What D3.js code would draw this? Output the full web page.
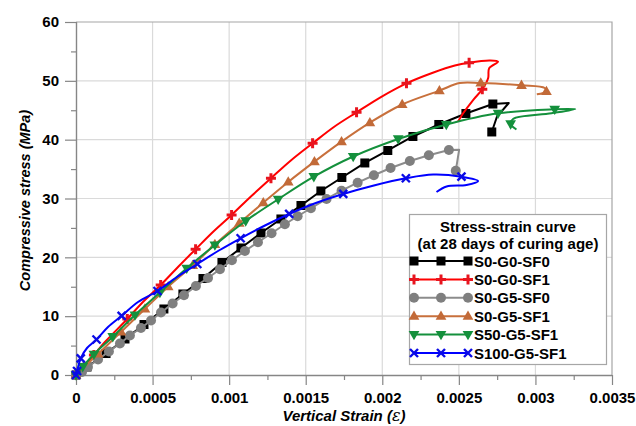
<!DOCTYPE html>
<html><head><meta charset="utf-8">
<script src="https://cdn.jsdelivr.net/npm/d3@7"></script>
<style>
html,body{margin:0;padding:0;background:#fff;}
svg text{font-family:"Liberation Sans",Arial,sans-serif;}
</style></head><body>
<svg id="chart" width="636" height="426"></svg>
<script>
// ---------------- DATA ----------------
const xTickValues = [0, 0.0005, 0.001, 0.0015, 0.002, 0.0025, 0.003, 0.0035];
const xTickLabels = ["0", "0.0005", "0.001", "0.0015", "0.002", "0.0025", "0.003", "0.0035"];
const xMinorTicks = [0.00025, 0.00075, 0.00125, 0.00175, 0.00225, 0.00275, 0.00325];
const yTickValues = [0, 10, 20, 30, 40, 50, 60];
const yMinorTicks = [5, 15, 25, 35, 45, 55];
const legendTitle = ["Stress-strain curve", "(at 28 days of curing age)"];
const seriesNames = ["S0-G0-SF0", "S0-G0-SF1", "S0-G5-SF0", "S0-G5-SF1", "S50-G5-SF1", "S100-G5-SF1"];

// [strain, stress (MPa)]
const s0g0sf0Line = [[0,0],[0.000026,0.51],[0.000072,1.36],[0.000196,3.65],[0.000320,6.12],[0.000444,8.58],[0.000574,11.22],[0.000698,13.77],[0.000829,16.40],[0.000953,19.12],[0.001077,21.59],[0.001208,24.14],[0.001338,26.52],[0.001469,28.81],[0.001599,31.28],[0.001736,33.57],[0.001886,36.04],[0.002036,38.16],[0.002200,40.54],[0.002369,42.58],[0.002546,44.45],[0.002722,46.06],[0.002826,46.23],[0.002748,43.86],[0.002715,41.31]];
const s0g0sf0Marks = [[0,0],[0.000072,1.36],[0.000196,3.65],[0.000320,6.12],[0.000444,8.58],[0.000574,11.22],[0.000698,13.77],[0.000829,16.40],[0.000953,19.12],[0.001077,21.59],[0.001208,24.14],[0.001338,26.52],[0.001469,28.81],[0.001599,31.28],[0.001736,33.57],[0.001886,36.04],[0.002036,38.16],[0.002200,40.54],[0.002369,42.58],[0.002546,44.45],[0.002722,46.06],[0.002715,41.31]];

const s0g0sf1Line = [[0,0],[0.000020,0.51],[0.000059,1.70],[0.000117,3.40],[0.000189,5.61],[0.000335,9.52],[0.000437,12.41],[0.000553,15.30],[0.000666,18.36],[0.000781,21.37],[0.000894,24.31],[0.001016,27.20],[0.001142,30.34],[0.001273,33.44],[0.001403,36.46],[0.001545,39.38],[0.001684,42.16],[0.001832,44.65],[0.001991,47.25],[0.002158,49.58],[0.002330,51.38],[0.002474,52.61],[0.002567,53.09],[0.002702,53.46],[0.002756,53.26],[0.002698,52.13],[0.002691,50.43],[0.002653,48.56],[0.002593,46.74],[0.002528,44.48],[0.002495,43.09]];
const s0g0sf1Marks = [[0,0],[0.000117,3.40],[0.000335,9.52],[0.000553,15.30],[0.000781,21.37],[0.001016,27.20],[0.001273,33.44],[0.001545,39.38],[0.001832,44.65],[0.002158,49.58],[0.002567,53.09],[0.002653,48.56]];

const s0g5sf0Line = [[0,0],[0.000039,0.51],[0.000078,1.36],[0.000144,2.63],[0.000215,3.99],[0.000287,5.35],[0.000352,6.71],[0.000424,7.99],[0.000490,9.26],[0.000555,10.62],[0.000631,12.15],[0.000705,13.55],[0.000783,15.13],[0.000862,16.49],[0.000940,17.97],[0.001018,19.50],[0.001103,21.08],[0.001188,22.56],[0.001277,24.09],[0.001364,25.62],[0.001447,26.98],[0.001534,28.34],[0.001636,29.92],[0.001734,31.33],[0.001839,32.69],[0.001945,33.95],[0.002054,35.19],[0.002180,36.38],[0.002304,37.35],[0.002435,38.25],[0.002502,38.30],[0.002480,34.73]];
const s0g5sf0Marks = [[0,0],[0.000039,0.51],[0.000078,1.36],[0.000144,2.63],[0.000215,3.99],[0.000287,5.35],[0.000352,6.71],[0.000424,7.99],[0.000490,9.26],[0.000555,10.62],[0.000631,12.15],[0.000705,13.55],[0.000783,15.13],[0.000862,16.49],[0.000940,17.97],[0.001018,19.50],[0.001103,21.08],[0.001188,22.56],[0.001277,24.09],[0.001364,25.62],[0.001447,26.98],[0.001534,28.34],[0.001636,29.92],[0.001734,31.33],[0.001839,32.69],[0.001945,33.95],[0.002054,35.19],[0.002180,36.38],[0.002304,37.35],[0.002435,38.25],[0.002480,34.73]];

const s0g5sf1Line = [[0,0],[0.000039,1.02],[0.000144,3.57],[0.000294,7.31],[0.000450,11.22],[0.000602,15.01],[0.000762,18.61],[0.000907,22.18],[0.001066,25.79],[0.001223,29.29],[0.001386,32.81],[0.001557,36.26],[0.001734,39.66],[0.001919,42.89],[0.002130,45.98],[0.002373,48.33],[0.002506,49.63],[0.002643,49.63],[0.002909,49.24],[0.003061,48.78],[0.003072,48.19],[0.003009,47.71]];
const s0g5sf1Marks = [[0,0],[0.000144,3.57],[0.000294,7.31],[0.000450,11.22],[0.000602,15.01],[0.000762,18.61],[0.000907,22.18],[0.001066,25.79],[0.001223,29.29],[0.001386,32.81],[0.001557,36.26],[0.001734,39.66],[0.001919,42.89],[0.002130,45.98],[0.002373,48.33],[0.002643,49.63],[0.002909,49.24],[0.003072,48.19]];

const s50g5sf1Line = [[0,0],[0.000044,1.41],[0.000117,3.52],[0.000240,6.51],[0.000385,10.20],[0.000548,14.02],[0.000723,18.14],[0.000907,22.10],[0.001108,26.18],[0.001320,29.87],[0.001553,33.71],[0.001810,37.14],[0.002104,40.12],[0.002418,42.58],[0.002756,44.48],[0.003126,45.16],[0.003260,45.21],[0.003105,44.48],[0.002854,43.52],[0.002838,42.67],[0.002876,41.73]];
const s50g5sf1Marks = [[0,0],[0.000044,1.41],[0.000117,3.52],[0.000240,6.51],[0.000385,10.20],[0.000548,14.02],[0.000723,18.14],[0.000907,22.10],[0.001108,26.18],[0.001320,29.87],[0.001553,33.71],[0.001810,37.14],[0.002104,40.12],[0.002418,42.58],[0.002756,44.48],[0.003126,45.16],[0.002838,42.67]];

const s100g5sf1Line = [[0,0],[0.000007,0.68],[0.000031,2.84],[0.000072,4.59],[0.000134,6.03],[0.000209,8.16],[0.000298,10.06],[0.000405,12.41],[0.000532,14.28],[0.000659,16.66],[0.000792,18.87],[0.000933,21.16],[0.001075,23.24],[0.001234,25.41],[0.001392,27.37],[0.001566,29.24],[0.001745,30.77],[0.001945,32.21],[0.002154,33.44],[0.002332,34.08],[0.002517,33.71],[0.002626,32.98],[0.002550,32.30],[0.002420,32.04],[0.002354,31.11]];
const s100g5sf1Marks = [[0,0],[0.000007,0.68],[0.000031,2.84],[0.000134,6.03],[0.000298,10.06],[0.000532,14.28],[0.000792,18.87],[0.001075,23.24],[0.001392,27.37],[0.001745,30.77],[0.002154,33.44],[0.002517,33.71]];

// ---------------- STYLE / LAYOUT ----------------
const series = [
  {name: seriesNames[0], line: s0g0sf0Line, marks: s0g0sf0Marks, color: "#000000", mcolor: "#000000", shape: "square", smooth: false},
  {name: seriesNames[1], line: s0g0sf1Line, marks: s0g0sf1Marks, color: "#ff0000", mcolor: "#e8141e", shape: "plus", smooth: true},
  {name: seriesNames[2], line: s0g5sf0Line, marks: s0g5sf0Marks, color: "#8c8c8c", mcolor: "#7f7f7f", shape: "circle", smooth: false},
  {name: seriesNames[3], line: s0g5sf1Line, marks: s0g5sf1Marks, color: "#c8703c", mcolor: "#c26a38", shape: "triUp", smooth: true},
  {name: seriesNames[4], line: s50g5sf1Line, marks: s50g5sf1Marks, color: "#14903c", mcolor: "#14903c", shape: "triDown", smooth: true},
  {name: seriesNames[5], line: s100g5sf1Line, marks: s100g5sf1Marks, color: "#0000ff", mcolor: "#0a0ae6", shape: "x", smooth: true}
];

const L = 76, R = 612, T = 22, B = 375;
const svg = d3.select("#chart");
svg.append("rect").attr("width", 636).attr("height", 426).attr("fill", "#fff");

const x = d3.scaleLinear().domain([0, 0.0035]).range([L, R]);
const y = d3.scaleLinear().domain([0, 60]).range([B, T]);

// gridlines
const grid = svg.append("g");
grid.selectAll(".vg").data(xTickValues.slice(1, -1)).enter().append("line")
  .attr("x1", d => x(d)).attr("x2", d => x(d)).attr("y1", T).attr("y2", B)
  .attr("stroke", "#dadada").attr("stroke-width", 1.2);
grid.selectAll(".hg").data(yTickValues.slice(1, -1)).enter().append("line")
  .attr("x1", L).attr("x2", R).attr("y1", d => y(d)).attr("y2", d => y(d))
  .attr("stroke", "#dadada").attr("stroke-width", 1.2);
// border top/right
svg.append("path").attr("d", `M${L},${T}H${R}V${B}`).attr("fill", "none").attr("stroke", "#a6a6a6").attr("stroke-width", 1.2);

// axes
const fontTick = "bold 15px 'Liberation Sans', Arial, sans-serif";
const yAxis = svg.append("g").attr("transform", `translate(${L},0)`)
  .call(d3.axisLeft(y).tickValues(yTickValues).tickSize(11).tickPadding(6).tickFormat(d3.format("d")));
const yMinor = svg.append("g").attr("transform", `translate(${L},0)`)
  .call(d3.axisLeft(y).tickValues(yMinorTicks).tickSize(5).tickFormat(""));
const xAxis = svg.append("g").attr("transform", `translate(0,${B})`)
  .call(d3.axisBottom(x).tickValues(xTickValues).tickSize(10).tickPadding(7).tickFormat((d, i) => xTickLabels[i]));
const xMinor = svg.append("g").attr("transform", `translate(0,${B})`)
  .call(d3.axisBottom(x).tickValues(xMinorTicks).tickSize(5).tickFormat(""));
[yAxis, yMinor, xAxis, xMinor].forEach(g => {
  g.select(".domain").attr("stroke", "#868686").attr("stroke-width", 1.4);
  g.selectAll(".tick line").attr("stroke", "#868686").attr("stroke-width", 1.2);
  g.selectAll("text").style("font", fontTick).attr("fill", "#000");
});
xAxis.select(".domain").attr("d", `M${L},0.5H${R}`);
yAxis.select(".domain").attr("d", `M0.5,${B}V${T}`);
yMinor.select(".domain").remove();
xMinor.select(".domain").remove();

// axis titles
svg.append("text").attr("transform", `translate(30,${(T + B) / 2 + 2}) rotate(-90)`)
  .attr("text-anchor", "middle").style("font", "italic bold 14.5px 'Liberation Sans', Arial, sans-serif")
  .text("Compressive stress (MPa)");
const xt = svg.append("text").attr("x", 344).attr("y", 421).attr("text-anchor", "middle")
  .style("font", "italic bold 15px 'Liberation Sans', Arial, sans-serif");
xt.append("tspan").text("Vertical Strain (");
xt.append("tspan").style("font", "italic 16px 'DejaVu Serif', serif").text("ε");
xt.append("tspan").text(")");

// marker drawing
function drawMarker(g, shape, cx, cy, color) {
  if (shape === "square") {
    g.append("rect").attr("x", cx - 4.5).attr("y", cy - 4.5).attr("width", 9).attr("height", 9).attr("fill", color);
  } else if (shape === "circle") {
    g.append("circle").attr("cx", cx).attr("cy", cy).attr("r", 5).attr("fill", color);
  } else if (shape === "triUp") {
    g.append("path").attr("d", d3.symbol(d3.symbolTriangle, 50)()).attr("transform", `translate(${cx},${cy + 0.5})`).attr("fill", color);
  } else if (shape === "triDown") {
    g.append("path").attr("d", d3.symbol(d3.symbolTriangle, 50)()).attr("transform", `translate(${cx},${cy - 0.5}) rotate(180)`).attr("fill", color);
  } else if (shape === "plus") {
    g.append("path").attr("d", `M${cx - 5},${cy}H${cx + 5}M${cx},${cy - 5}V${cy + 5}`).attr("stroke", color).attr("stroke-width", 3);
  } else if (shape === "x") {
    g.append("path").attr("d", `M${cx - 4},${cy - 4}L${cx + 4},${cy + 4}M${cx - 4},${cy + 4}L${cx + 4},${cy - 4}`).attr("stroke", color).attr("stroke-width", 2.4);
  }
}

// series
const plot = svg.append("g");
series.forEach(s => {
  const line = d3.line().x(d => x(d[0])).y(d => y(d[1]))
    .curve(s.smooth ? d3.curveCatmullRom.alpha(0.5) : d3.curveLinear);
  const g = plot.append("g");
  g.append("path").datum(s.line).attr("d", line).attr("fill", "none")
    .attr("stroke", s.color).attr("stroke-width", 2).attr("stroke-linejoin", "round");
  s.marks.forEach(d => drawMarker(g, s.shape, x(d[0]), y(d[1]), s.mcolor));
});

// legend
const lg = svg.append("g");
lg.append("rect").attr("x", 409.5).attr("y", 214.5).attr("width", 197).attr("height", 150)
  .attr("fill", "#fff").attr("stroke", "#a6a6a6").attr("stroke-width", 1.2);
legendTitle.forEach((t, i) => {
  lg.append("text").attr("x", 508).attr("y", 232 + i * 16.5).attr("text-anchor", "middle")
    .style("font", "bold 15px 'Liberation Sans', Arial, sans-serif").text(t);
});
series.forEach((s, i) => {
  const cy = 261 + i * 18.4;
  lg.append("line").attr("x1", 414).attr("x2", 468).attr("y1", cy).attr("y2", cy)
    .attr("stroke", s.color).attr("stroke-width", 2);
  [414, 441, 468].forEach(cx => drawMarker(lg, s.shape, cx, cy, s.mcolor));
  lg.append("text").attr("x", 474).attr("y", cy + 5.5)
    .style("font", "bold 15px 'Liberation Sans', Arial, sans-serif").text(s.name);
});
</script>
</body></html>
